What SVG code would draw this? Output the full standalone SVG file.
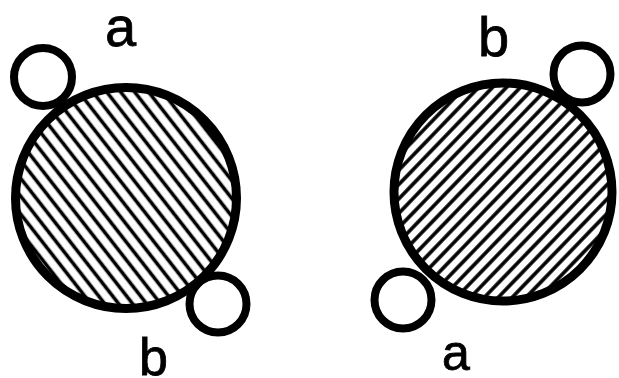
<svg xmlns="http://www.w3.org/2000/svg" width="619" height="378" viewBox="0 0 619 378">
  <style>
    .big { stroke: #000; stroke-width: 9; }
    .small { fill: #fff; stroke: #000; stroke-width: 8; }
    .lbl { font-family: "Liberation Sans", Arial, sans-serif; fill: #000; stroke: #000; stroke-width: 0.8; text-anchor: middle; }
  </style>
  <defs>
    <pattern id="hatchL" patternUnits="userSpaceOnUse" width="11" height="11" patternTransform="rotate(52)">
      <rect width="11" height="11" fill="#fff"/>
      <line x1="0" y1="5.5" x2="11" y2="5.5" stroke="#000" stroke-width="3.6"/>
    </pattern>
    <pattern id="hatchR" patternUnits="userSpaceOnUse" width="10" height="10" patternTransform="rotate(-46)">
      <rect width="10" height="10" fill="#fff"/>
      <line x1="0" y1="5" x2="10" y2="5" stroke="#000" stroke-width="3.6"/>
    </pattern>
  </defs>
  <rect width="619" height="378" fill="#fff"/>

  <g id="left-figure">
    <g id="left-big">
      <circle class="big" cx="126" cy="198" r="110.5" fill="url(#hatchL)"/>
    </g>
    <g id="left-small-a">
      <circle class="small" cx="43" cy="77" r="29"/>
      <text class="lbl" x="120.5" y="46" font-size="56">a</text>
    </g>
    <g id="left-small-b">
      <circle class="small" cx="218" cy="304" r="28.5"/>
      <text class="lbl" x="153.5" y="375" font-size="52">b</text>
    </g>
  </g>

  <g id="right-figure">
    <g id="right-big">
      <circle class="big" cx="503" cy="192" r="109" fill="url(#hatchR)"/>
    </g>
    <g id="right-small-b">
      <circle class="small" cx="582" cy="74" r="28.5"/>
      <text class="lbl" x="493.5" y="56" font-size="56">b</text>
    </g>
    <g id="right-small-a">
      <circle class="small" cx="403" cy="300" r="28.5"/>
      <text class="lbl" x="456" y="370" font-size="50">a</text>
    </g>
  </g>
</svg>
